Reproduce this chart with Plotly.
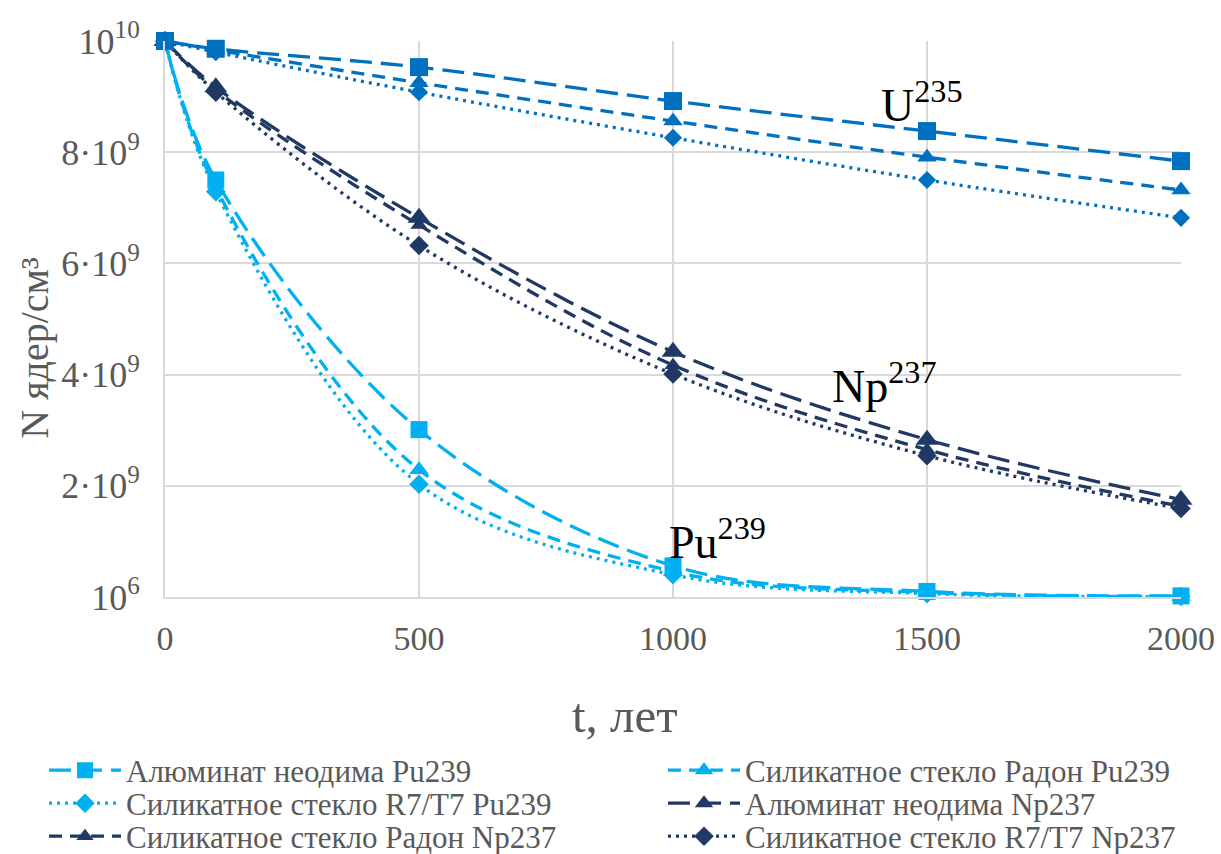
import plotly.graph_objects as go

t = [0, 100, 500, 1000, 1500, 2000]

# Pu239
pu_al = [1.0e10, 7.50e9, 3.01e9, 0.56e9, 0.10e9, 0.02e9]
pu_radon = [1.0e10, 7.36e9, 2.29e9, 0.46e9, 0.08e9, 0.01e9]
pu_r7 = [1.0e10, 7.29e9, 2.03e9, 0.40e9, 0.06e9, 0.01e9]
# Np237
np_al = [1.0e10, 9.17e9, 6.82e9, 4.41e9, 2.83e9, 1.75e9]
np_radon = [1.0e10, 9.12e9, 6.69e9, 4.17e9, 2.65e9, 1.63e9]
np_r7 = [1.0e10, 9.08e9, 6.32e9, 4.01e9, 2.54e9, 1.59e9]
# U235
u_al = [1.0e10, 9.86e9, 9.53e9, 8.92e9, 8.38e9, 7.84e9]
u_radon = [1.0e10, 9.84e9, 9.25e9, 8.56e9, 7.91e9, 7.32e9]
u_r7 = [1.0e10, 9.80e9, 9.08e9, 8.26e9, 7.50e9, 6.82e9]

names = {
    "pu_al": "Алюминат неодима Pu239",
    "pu_radon": "Силикатное стекло Радон Pu239",
    "pu_r7": "Силикатное стекло R7/T7 Pu239",
    "np_al": "Алюминат неодима Np237",
    "np_radon": "Силикатное стекло Радон Np237",
    "np_r7": "Силикатное стекло R7/T7 Np237",
    "u_al": "Алюминат неодима U235",
    "u_radon": "Силикатное стекло Радон U235",
    "u_r7": "Силикатное стекло R7/T7 U235",
}

ytick_vals = [0, 2e9, 4e9, 6e9, 8e9, 1e10]
ytick_text = ["10<sup>6</sup>", "2·10<sup>9</sup>", "4·10<sup>9</sup>",
              "6·10<sup>9</sup>", "8·10<sup>9</sup>", "10<sup>10</sup>"]
xtick_vals = [0, 500, 1000, 1500, 2000]

x_title = "t, лет"
y_title = "N ядер/см³"

C_PU = "#00B0F0"
C_NP = "#203864"
C_U = "#0070C0"
LONG = "22px,9px"
DASH = "13px,8px"
DOT = "3px,5px"

series = [
    ("pu_al", pu_al, C_PU, LONG, "square", 17, "legend", True),
    ("pu_radon", pu_radon, C_PU, DASH, "triangle-up", 17, "legend2", True),
    ("pu_r7", pu_r7, C_PU, DOT, "diamond", 15, "legend3", True),
    ("np_al", np_al, C_NP, LONG, "triangle-up", 20, "legend4", True),
    ("np_radon", np_radon, C_NP, DASH, "triangle-up", 15, "legend5", True),
    ("np_r7", np_r7, C_NP, DOT, "diamond", 15, "legend6", True),
    ("u_al", u_al, C_U, LONG, "square", 18, "legend", False),
    ("u_radon", u_radon, C_U, DASH, "triangle-up", 17, "legend", False),
    ("u_r7", u_r7, C_U, DOT, "diamond", 14, "legend", False),
]

fig = go.Figure()
for key, vals, col, dash, sym, size, leg, show in series:
    fig.add_trace(go.Scatter(
        x=t, y=vals, name=names[key], mode="lines+markers",
        line=dict(color=col, width=3.3, dash=dash, shape="spline", smoothing=1.0),
        marker=dict(symbol=sym, size=size, color=col),
        cliponaxis=False, legend=leg, showlegend=show,
    ))

FONT = "Liberation Serif, Times New Roman, serif"
GRAY = "#595959"

H = 854.0
W = 1221.0
legend_rows = [770.5, 803.5, 836.5]
legend_cols = [44, 663]
legend_ids = ["legend", "legend2", "legend3", "legend4", "legend5", "legend6"]
legend_layout = {}
for i, lid in enumerate(legend_ids):
    r, c = divmod(i, 2)
    legend_layout[lid] = dict(
        xref="container", yref="container",
        x=legend_cols[c] / W, y=1 - legend_rows[r] / H,
        xanchor="left", yanchor="middle", orientation="v",
        font=dict(size=31, color=GRAY, family=FONT), itemwidth=72,
        bgcolor="rgba(0,0,0,0)", borderwidth=0,
    )

fig.update_layout(
    width=1221, height=854,
    margin=dict(l=165, r=40, t=41, b=257, autoexpand=False),
    paper_bgcolor="white", plot_bgcolor="white",
    font=dict(family=FONT, color=GRAY, size=34),
    xaxis=dict(range=[0, 2000], tickvals=xtick_vals, showgrid=True,
               gridcolor="#D9D9D9", gridwidth=2, zeroline=False,
               showline=True, linecolor="#D9D9D9", linewidth=2,
               tickfont=dict(size=34, color=GRAY), ticks="", tickangle=0,
               automargin=False, ticklabelstandoff=10),
    yaxis=dict(range=[0, 1e10], tickvals=ytick_vals, ticktext=ytick_text,
               showgrid=True, gridcolor="#D9D9D9", gridwidth=2, zeroline=False,
               showline=True, linecolor="#D9D9D9", linewidth=2,
               tickfont=dict(size=36, color=GRAY), ticks="", automargin=False,
               ticklabelstandoff=16),
    showlegend=True,
    **legend_layout,
)

fig.add_annotation(x=(625 - 165) / 1016, y=(597.5 - 716) / 556.5, xref="paper", yref="paper",
                   xanchor="center", yanchor="middle",
                   text=x_title, showarrow=False,
                   font=dict(family=FONT, size=49, color=GRAY))
fig.add_annotation(x=(35 - 165) / 1016, y=(597.5 - 348) / 556.5, xref="paper", yref="paper",
                   xanchor="center", yanchor="middle",
                   text=y_title, showarrow=False, textangle=-90,
                   font=dict(family=FONT, size=40, color=GRAY))

ann_font = dict(family=FONT, size=46, color="black")
fig.add_annotation(x=1490, y=8.9e9, xref="x", yref="y", text="U<sup>235</sup>",
                   showarrow=False, font=ann_font)
fig.add_annotation(x=1417, y=3.85e9, xref="x", yref="y", text="Np<sup>237</sup>",
                   showarrow=False, font=ann_font)
fig.add_annotation(x=1087, y=1.05e9, xref="x", yref="y", text="Pu<sup>239</sup>",
                   showarrow=False, font=ann_font)

fig.write_html("out.html")
